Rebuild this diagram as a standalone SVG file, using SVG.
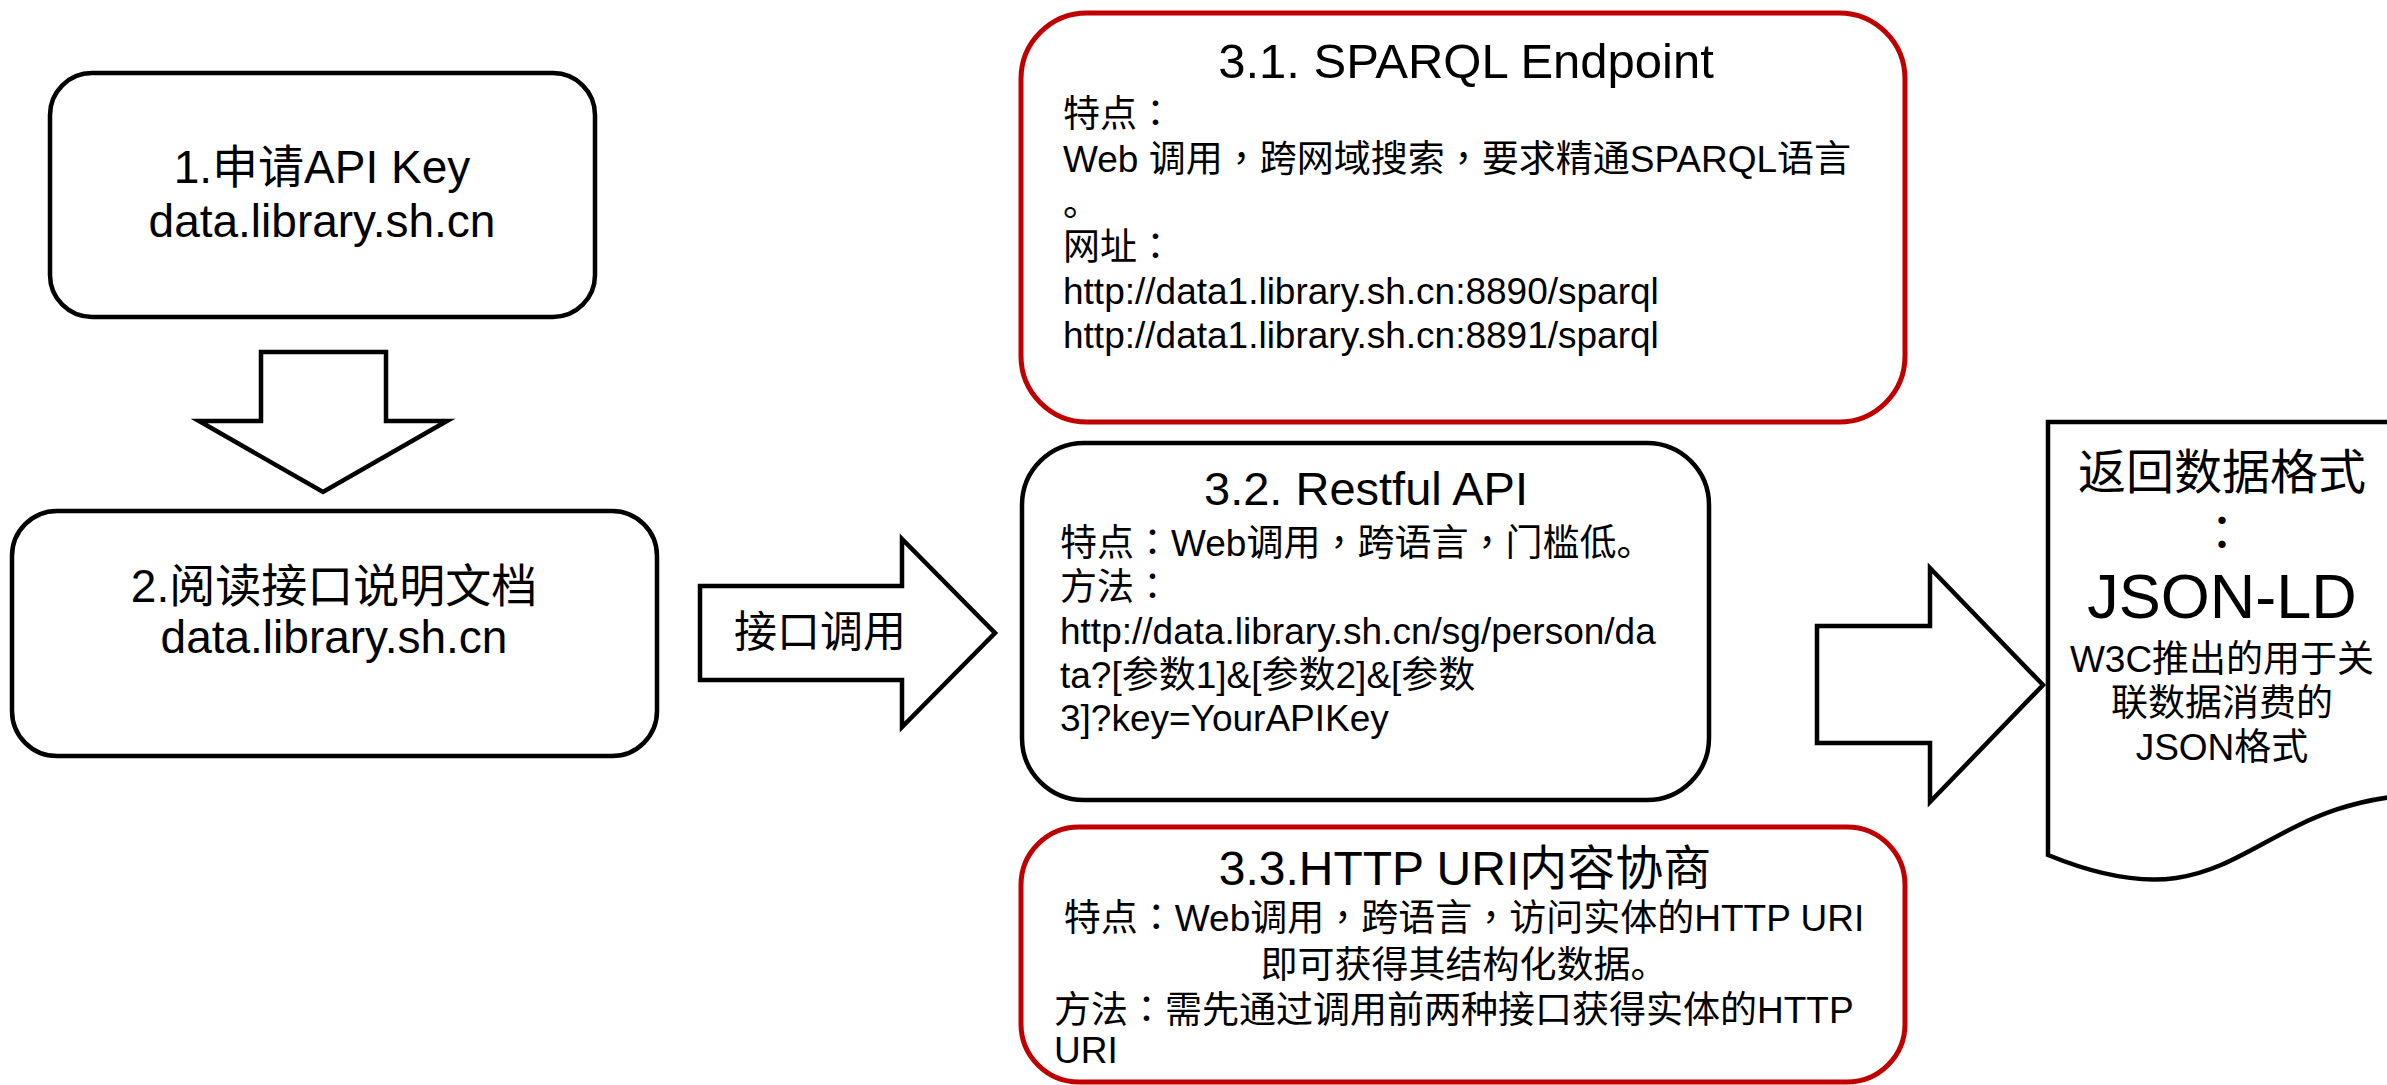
<svg xmlns="http://www.w3.org/2000/svg" width="2387" height="1085" viewBox="0 0 2387 1085">
<style>
.box{fill:#fff;stroke:#000;stroke-width:4.5}
.red{fill:#fff;stroke:#C00000;stroke-width:5}
.arr{fill:#fff;stroke:#000;stroke-width:4.5;stroke-linejoin:miter}
text{font-family:"Liberation Sans","Noto Sans CJK SC",sans-serif;fill:#000}
.p{font-family:"Noto Sans CJK TC",sans-serif}
.c{text-anchor:middle}
.f46{font-size:46px}
.f47{font-size:47px}
.f48{font-size:48px}
.f49{font-size:49px}
.f37{font-size:37px}
.f43{font-size:43px}
.f63{font-size:63px}
</style>
<rect width="2387" height="1085" fill="#fff"/>
<g id="connectors">
<polygon class="arr" points="261,352 386,352 386,421 447,421 323,492 199,421 261,421"/>
<polygon class="arr" points="700,586 902,586 902,539 995,633 902,727 902,680 700,680"/>
<text class="f43 c" x="820" y="647">接口调用</text>
<polygon class="arr" points="1817,626 1930,626 1930,568 2043,685 1930,802 1930,743 1817,743"/>
</g>
<g id="node1">
<rect class="box" x="50" y="73" width="545" height="244" rx="42" ry="42"/>
<text class="f46 c" x="322" y="183">1.申请API Key</text>
<text class="f46 c" x="322" y="237">data.library.sh.cn</text>
</g>
<g id="node2">
<rect class="box" x="12" y="511" width="645" height="245" rx="45" ry="45"/>
<text class="f46 c" x="334" y="602">2.阅读接口说明文档</text>
<text class="f46 c" x="334" y="653">data.library.sh.cn</text>
</g>
<g id="node31">
<rect class="red" x="1021" y="13" width="884" height="409" rx="66" ry="66"/>
<text class="f49 c" x="1466" y="78">3.1. SPARQL Endpoint</text>
<text class="f37" x="1063" y="127">特点<tspan class="p">：</tspan></text>
<text class="f37" x="1063" y="172">Web 调用<tspan class="p">，</tspan>跨网域搜索<tspan class="p">，</tspan>要求精通SPARQL语言</text>
<text class="f37" x="1063" y="216">。</text>
<text class="f37" x="1063" y="260">网址<tspan class="p">：</tspan></text>
<text class="f37" x="1063" y="304">http://data1.library.sh.cn:8890/sparql</text>
<text class="f37" x="1063" y="348">http://data1.library.sh.cn:8891/sparql</text>
</g>
<g id="node32">
<rect class="box" x="1022" y="443" width="687" height="357" rx="62" ry="62"/>
<text class="f47 c" x="1366" y="505">3.2. Restful API</text>
<text class="f37" x="1060" y="556">特点<tspan class="p">：</tspan>Web调用<tspan class="p">，</tspan>跨语言<tspan class="p">，</tspan>门槛低。</text>
<text class="f37" x="1060" y="600">方法<tspan class="p">：</tspan></text>
<text class="f37" x="1060" y="644">http://data.library.sh.cn/sg/person/da</text>
<text class="f37" x="1060" y="688">ta?[参数1]&amp;[参数2]&amp;[参数</text>
<text class="f37" x="1060" y="731">3]?key=YourAPIKey</text>
</g>
<g id="node33">
<rect class="red" x="1021" y="827" width="884" height="255" rx="58" ry="58"/>
<text class="f48 c" x="1465" y="885">3.3.HTTP URI内容协商</text>
<text class="f37 c" x="1464" y="931">特点<tspan class="p">：</tspan>Web调用<tspan class="p">，</tspan>跨语言<tspan class="p">，</tspan>访问实体的HTTP URI</text>
<text class="f37 c" x="1464" y="978">即可获得其结构化数据。</text>
<text class="f37" x="1054" y="1023">方法<tspan class="p">：</tspan>需先通过调用前两种接口获得实体的HTTP</text>
<text class="f37" x="1054" y="1063">URI</text>
</g>
<g id="doc">
<path class="box" d="M2048,422 H2438 V794 C2243,794 2243,935 2048,855 Z"/>
<text class="f48 c" x="2222" y="489">返回数据格式</text>
<text class="f48 c p" x="2222" y="550">：</text>
<text class="f63 c" x="2222" y="618">JSON-LD</text>
<text class="f37 c" x="2222" y="672">W3C推出的用于关</text>
<text class="f37 c" x="2222" y="716">联数据消费的</text>
<text class="f37 c" x="2222" y="760">JSON格式</text>
</g>
</svg>
